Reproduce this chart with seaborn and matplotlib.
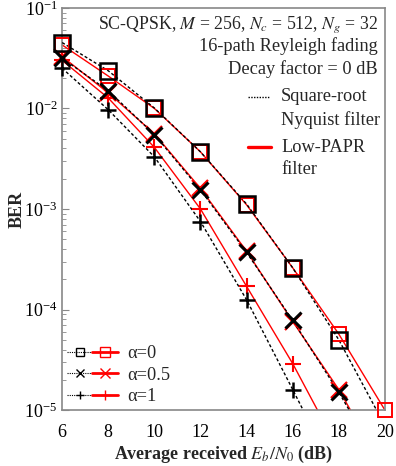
import numpy as np
import pandas as pd
import seaborn as sns
import matplotlib
matplotlib.use("Agg")
import matplotlib.pyplot as plt
from matplotlib.lines import Line2D
from matplotlib.legend_handler import HandlerTuple

snr = [6, 8, 10, 12, 14, 16, 18, 20]
ber_nyq_a0 = [0.0452, 0.0237, 0.0101, 0.0037, 0.00112, 2.6e-4, 5.0e-5, 7e-6]
ber_lp_a0 = [0.0428, 0.0210, 0.0100, 0.0037, 0.0011, 2.6e-4, 5.7e-5, 1.0e-5]
ber_nyq_a05 = [0.0316, 0.0150, 0.0055, 0.00155, 3.7e-4, 7.8e-5, 1.5e-5, 2.5e-6]
ber_lp_a05 = [0.0328, 0.0143, 0.0056, 0.0016, 3.8e-4, 7.6e-5, 1.6e-5, 2.5e-6]
ber_nyq_a1 = [0.0251, 0.0097, 0.0033, 7.5e-4, 1.25e-4, 1.6e-5, 2e-6, 2e-7]
ber_lp_a1 = [0.0300, 0.0127, 0.0041, 0.0010, 1.7e-4, 2.9e-5, 4e-6, 4e-7]
# number of measured points (markers) per series
n_nyq_a0, n_lp_a0 = 7, 8
n_nyq_a05, n_lp_a05 = 7, 7
n_nyq_a1, n_lp_a1 = 6, 6
alpha_labels = ["α=0", "α=0.5", "α=1"]
filter_labels = ["Square-root\nNyquist filter", "Low-PAPR\nfilter"]

sns.set_style("white")
plt.rcParams['font.family'] = ['Liberation Serif', 'DejaVu Serif']
plt.rcParams['mathtext.fontset'] = 'stix'

fig = plt.figure(figsize=(3.96, 4.66), dpi=100)
ax = fig.add_axes([0.157, 0.12, 0.815, 0.863])

black_ls = (0, (2.2, 1.6))
series = [
    (ber_nyq_a0, n_nyq_a0, 'k', black_ls, 's', 11, 1.8, 'none', 3),
    (ber_lp_a0, n_lp_a0, 'red', '-', 's', 10.5, 1.4, 'none', 2),
    (ber_nyq_a05, n_nyq_a05, 'k', black_ls, 'x', 12, 2.2, 'k', 3),
    (ber_lp_a05, n_lp_a05, 'red', '-', 'x', 11, 1.6, 'red', 2),
    (ber_nyq_a1, n_nyq_a1, 'k', black_ls, '+', 12, 1.8, 'k', 3),
    (ber_lp_a1, n_lp_a1, 'red', '-', '+', 12, 1.5, 'red', 2),
]
for vals, n, col, ls, mk, ms, mew, mfc, z in series:
    df = pd.DataFrame({"snr": snr[:len(vals)], "ber": vals})
    sns.lineplot(data=df, x="snr", y="ber", ax=ax, color=col, linestyle=ls,
                 linewidth=1.0, zorder=z, legend=False)
    ax.plot(snr[:n], vals[:n], linestyle='none', marker=mk, ms=ms, mew=mew,
            mfc=mfc, mec=col, clip_on=False, zorder=z + 2)

ax.set_yscale('log')
ax.set_ylim(1e-5, 1e-1)
ax.set_xlim(6, 20)
ax.set_xticks([6, 8, 10, 12, 14, 16, 18, 20])
ax.tick_params(axis='both', which='both', direction='in', labelsize=13,
               colors='#888888', labelcolor='black')
ax.tick_params(axis='x', which='major', length=5, pad=10)
ax.tick_params(axis='y', which='major', length=5, left=True)
ax.tick_params(axis='y', which='minor', length=3, left=True)
for s in ax.spines.values():
    s.set_color('#888888')
    s.set_linewidth(1.2)

ax.set_xlabel(r"Average received $E_b/N_0$ (dB)", fontsize=13, fontweight='bold', labelpad=2)
ax.set_ylabel("BER", fontsize=13, fontweight='bold', labelpad=-1)

# annotation text
fs = 13.2
ax.text(0.978, 0.958, r"SC-QPSK, $M$ = 256, $N_c$ = 512, $N_g$ = 32",
        transform=ax.transAxes, ha='right', va='center', fontsize=12.8)
ax.text(0.978, 0.906, "16-path Reyleigh fading", transform=ax.transAxes,
        ha='right', va='center', fontsize=fs)
ax.text(0.978, 0.848, "Decay factor = 0 dB", transform=ax.transAxes,
        ha='right', va='center', fontsize=fs)

# filter legend (handle aligned with first text line)
ax.add_line(Line2D([0.576, 0.644], [0.779, 0.779], transform=ax.transAxes,
                   color='k', linestyle=(0, (1, 1)), lw=1.0))
ax.text(0.678, 0.779, filter_labels[0].split("\n")[0], transform=ax.transAxes,
        ha='left', va='center', fontsize=fs)
ax.text(0.678, 0.721, filter_labels[0].split("\n")[1], transform=ax.transAxes,
        ha='left', va='center', fontsize=fs)
ax.add_line(Line2D([0.576, 0.648], [0.654, 0.654], transform=ax.transAxes,
                   color='red', linestyle='-', lw=2.4))
ax.text(0.678, 0.654, filter_labels[1].split("\n")[0], transform=ax.transAxes,
        ha='left', va='center', fontsize=fs)
ax.text(0.678, 0.597, filter_labels[1].split("\n")[1], transform=ax.transAxes,
        ha='left', va='center', fontsize=fs)

# alpha legend
handles = []
for mk in ['s', 'x', '+']:
    hb = Line2D([], [], color='k', linestyle=(0, (1, 1)), lw=0.8, marker=mk,
                ms=6, mfc='none', mew=1.0)
    hr = Line2D([], [], color='red', linestyle='-', lw=2.0, marker=mk,
                ms=7, mfc='none', mew=1.0)
    handles.append((hb, hr))
ax.legend(handles, alpha_labels, loc='lower left', frameon=False,
          fontsize=fs, handler_map={tuple: HandlerTuple(ndivide=None, pad=0.0)},
          handlelength=2.8, handletextpad=0.5, labelspacing=0.25,
          borderaxespad=0.05, borderpad=0.2, bbox_to_anchor=(0.0, 0.0))

fig.savefig("out.png", dpi=100)
